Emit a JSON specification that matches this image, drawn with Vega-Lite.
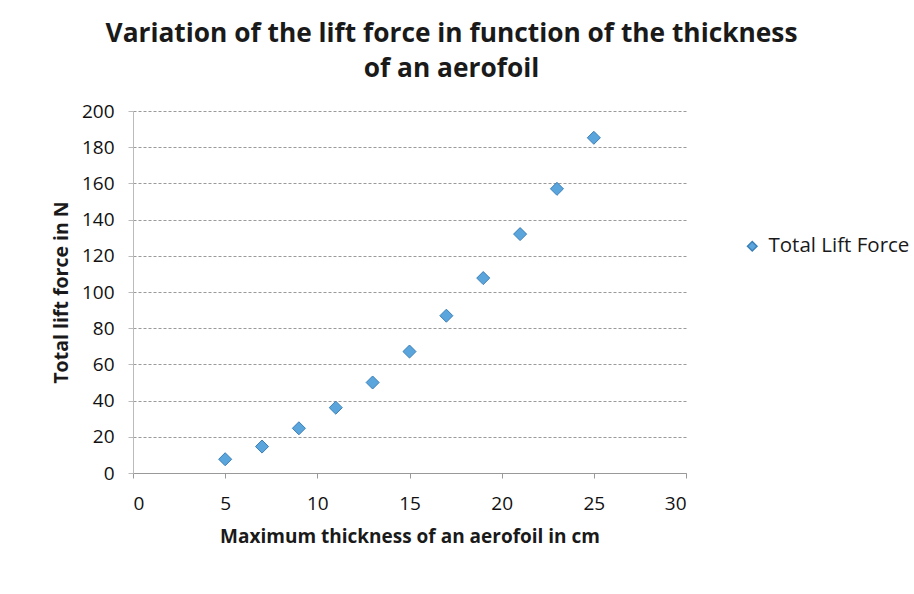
{
  "$schema": "https://vega.github.io/schema/vega-lite/v6.json",
  "autosize": "none",
  "width": 553,
  "height": 362,
  "padding": {"left": 133, "top": 111, "right": 228, "bottom": 121},
  "background": "white",
  "title": {
    "text": ["Variation of the lift force in function of the thickness", "of an aerofoil"],
    "font": "Open Sans",
    "fontSize": 26.3,
    "fontWeight": "bold",
    "color": "#1a1a1a",
    "anchor": "middle",
    "dx": 42,
    "offset": 20,
    "lineHeight": 35
  },
  "data": {
    "values": [
      {"thickness": 5, "lift": 7.6, "series": "Total Lift Force"},
      {"thickness": 7, "lift": 14.6, "series": "Total Lift Force"},
      {"thickness": 9, "lift": 24.7, "series": "Total Lift Force"},
      {"thickness": 11, "lift": 36.1, "series": "Total Lift Force"},
      {"thickness": 13, "lift": 50, "series": "Total Lift Force"},
      {"thickness": 15, "lift": 67.1, "series": "Total Lift Force"},
      {"thickness": 17, "lift": 86.9, "series": "Total Lift Force"},
      {"thickness": 19, "lift": 107.7, "series": "Total Lift Force"},
      {"thickness": 21, "lift": 132, "series": "Total Lift Force"},
      {"thickness": 23, "lift": 157, "series": "Total Lift Force"},
      {"thickness": 25, "lift": 185.2, "series": "Total Lift Force"}
    ]
  },
  "mark": {"type": "point", "shape": "diamond", "filled": true, "size": 170, "opacity": 1, "stroke": "#3a7fb8", "strokeWidth": 1},
  "encoding": {
    "x": {
      "field": "thickness", "type": "quantitative",
      "scale": {"domain": [0, 30], "nice": false},
      "axis": {
        "values": [0, 5, 10, 15, 20, 25, 30],
        "title": "Maximum thickness of an aerofoil in cm",
        "titleFont": "Open Sans", "titleFontSize": 19, "titleFontWeight": "bold", "titleColor": "#1a1a1a",
        "titlePadding": 14,
        "labelFont": "Open Sans", "labelFontSize": 19, "labelColor": "#111", "labelPadding": 16,
        "grid": false, "domainColor": "#999", "tickColor": "#999", "tickSize": 5
      }
    },
    "y": {
      "field": "lift", "type": "quantitative",
      "scale": {"domain": [0, 200], "nice": false},
      "axis": {
        "values": [0, 20, 40, 60, 80, 100, 120, 140, 160, 180, 200],
        "title": "Total lift force in N",
        "titleFont": "Open Sans", "titleFontSize": 19.5, "titleFontWeight": "bold", "titleColor": "#1a1a1a",
        "titlePadding": 10,
        "labelFont": "Open Sans", "labelFontSize": 19, "labelColor": "#111", "labelPadding": 14,
        "grid": true, "gridColor": "#9a9a9a", "gridDash": [3, 2], "gridWidth": 1,
        "domainColor": "#bbb", "tickColor": "#bbb", "tickSize": 5
      }
    },
    "color": {
      "field": "series", "type": "nominal",
      "scale": {"range": ["#5aa5dc"]},
      "legend": {
        "title": null,
        "orient": "none",
        "legendX": 609,
        "legendY": 125,
        "symbolType": "diamond",
        "symbolSize": 90,
        "symbolStrokeColor": "#3a7fb8",
        "labelFont": "Open Sans", "labelFontSize": 20.5, "labelColor": "#1a1a1a",
        "labelOffset": 6
      }
    }
  },
  "config": {"view": {"stroke": null}}
}
